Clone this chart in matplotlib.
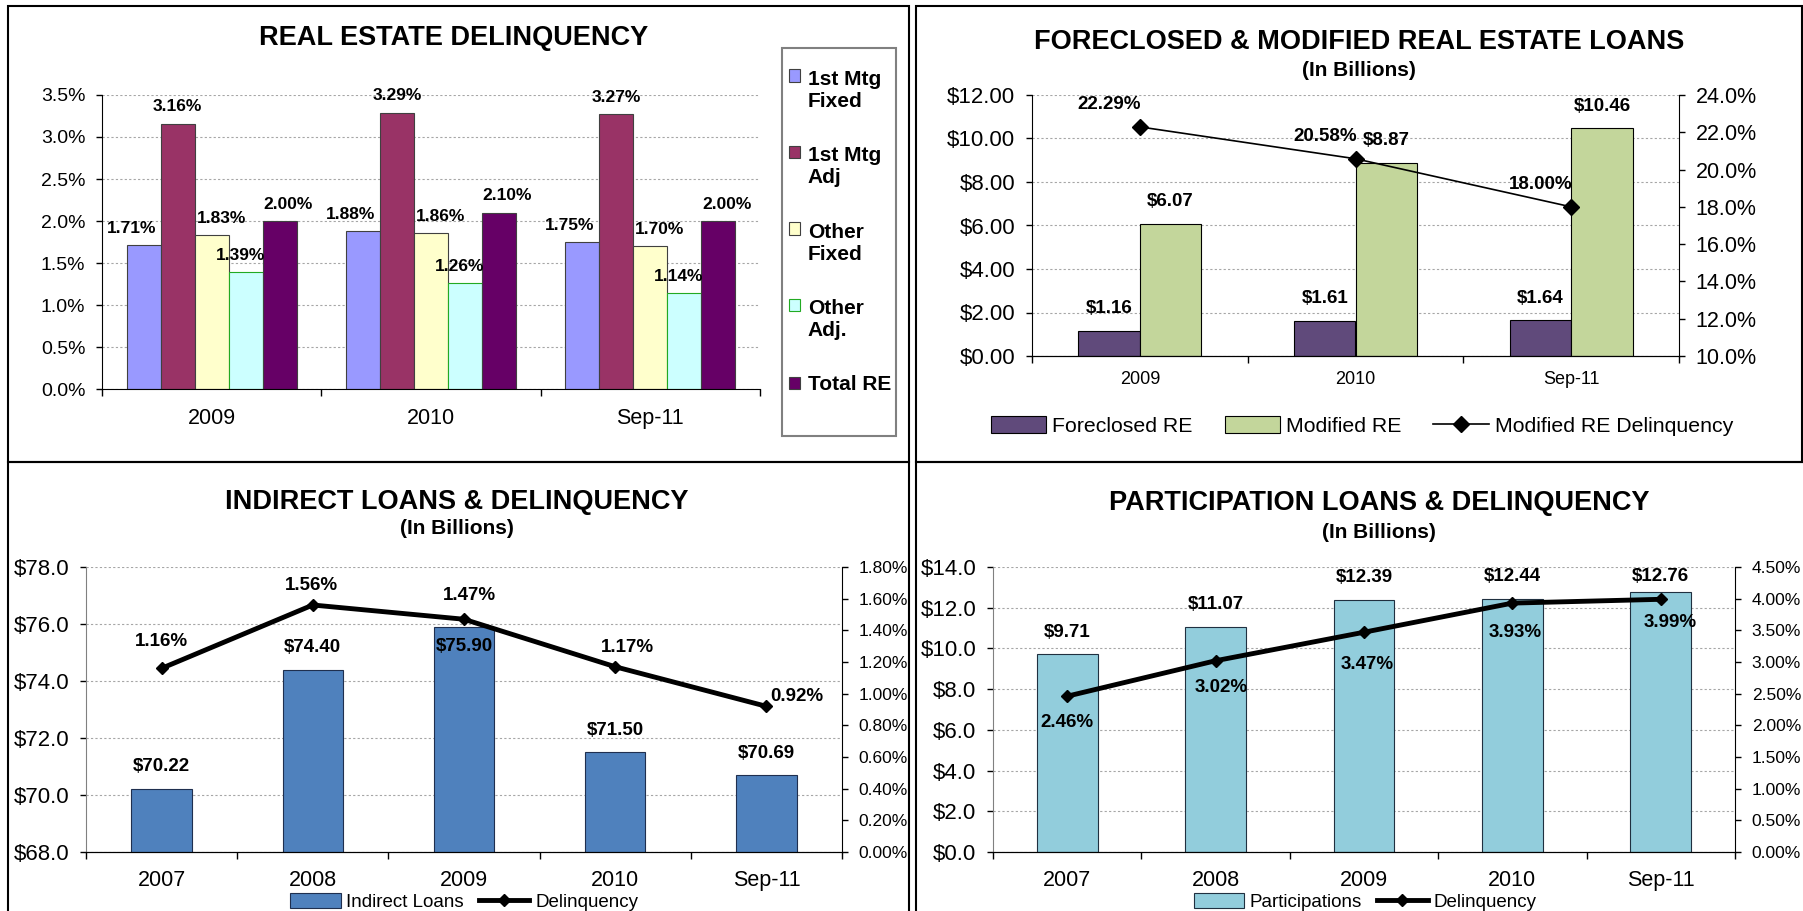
import matplotlib.pyplot as plt
import numpy as np
from matplotlib.patches import Rectangle, Patch
from matplotlib.legend_handler import HandlerPatch

plt.rcParams['font.family'] = ['Liberation Sans', 'DejaVu Sans']

W, H = 1803, 911

# real estate delinquency (%)
re_years = ['2009', '2010', 'Sep-11']
re_names = ['1st Mtg\nFixed', '1st Mtg\nAdj', 'Other\nFixed', 'Other\nAdj.', 'Total RE']
mtg_fixed = [1.71, 1.88, 1.75]
mtg_adj = [3.16, 3.29, 3.27]
other_fixed = [1.83, 1.86, 1.70]
other_adj = [1.39, 1.26, 1.14]
total_re = [2.00, 2.10, 2.00]

# foreclosed & modified RE ($ billions, %)
fm_years = ['2009', '2010', 'Sep-11']
foreclosed = [1.16, 1.61, 1.64]
modified = [6.07, 8.87, 10.46]
modified_delinq = [22.29, 20.58, 18.00]

# indirect loans ($ billions, %)
years5 = ['2007', '2008', '2009', '2010', 'Sep-11']
indirect = [70.22, 74.40, 75.90, 71.50, 70.69]
indirect_delinq = [1.16, 1.56, 1.47, 1.17, 0.92]

# participation loans ($ billions, %)
participations = [9.71, 11.07, 12.39, 12.44, 12.76]
part_delinq = [2.46, 3.02, 3.47, 3.93, 3.99]

fig = plt.figure(figsize=(W / 100, H / 100), dpi=100)


def px_axes(left, top, right, bottom):
    return fig.add_axes([left / W, 1 - bottom / H, (right - left) / W, (bottom - top) / H])


def fig_text(x, y, s, size, weight='bold'):
    fig.text(x / W, 1 - y / H, s, ha='center', va='center', fontsize=size, fontweight=weight)


def panel(left, top, right, bottom):
    fig.add_artist(Rectangle((left / W, 1 - bottom / H), (right - left) / W, (bottom - top) / H,
                             transform=fig.transFigure, fill=False, ec='black', lw=1.5))


def cat_axis(ax, cats, size, pad):
    n = len(cats)
    ax.set_xlim(-0.5, n - 0.5)
    ax.set_xticks(range(n), cats)
    ax.set_xticks(np.arange(-0.5, n, 1), minor=True)
    ax.tick_params(axis='x', which='major', length=0, labelsize=size, pad=pad)
    ax.tick_params(axis='x', which='minor', length=5, width=1)
    ax.spines['top'].set_visible(False)
    ax.spines['right'].set_visible(False)
    ax.yaxis.grid(True, color='#A6A6A6', ls=(0, (2, 2)), lw=0.8)
    ax.set_axisbelow(True)


def val_axis(ax, ticks, fmt, size, pad=8):
    ax.set_ylim(ticks[0], ticks[-1])
    ax.set_yticks(ticks, [fmt.format(t) for t in ticks])
    ax.tick_params(axis='y', length=4, width=1, labelsize=size, pad=pad)


def point_labels(ax, x, vals, fmt, offsets, size=13.5):
    for xi, v, (dx, dy) in zip(x, vals, offsets):
        ax.annotate(fmt.format(v), (xi, v), xytext=(dx, dy), textcoords='offset points',
                    ha='center', va='center', fontsize=size, fontweight='bold')


def upper_square(legend, orig_handle, xdescent, ydescent, width, height, fontsize):
    # put the swatch next to the first line of a two line label
    return Rectangle((-xdescent, -ydescent + 0.7 * fontsize), width, height)


# panel frames
panel(8, 6, 909, 462)
panel(916, 6, 1802, 462)
panel(8, 462, 909, 918)
panel(916, 462, 1808, 918)

# ---------- REAL ESTATE DELINQUENCY ----------
ax = px_axes(102, 95, 760, 389)
cat_axis(ax, re_years, 15.5, 14)
val_axis(ax, np.arange(0, 3.51, 0.5), '{:.1f}%', 14)
re_vals = [mtg_fixed, mtg_adj, other_fixed, other_adj, total_re]
re_colors = ['#9999FF', '#993366', '#FFFFCC', '#CCFFFF', '#660066']
re_edges = ['#404040', '#404040', '#404040', '#22AA22', '#404040']
re_dx = [-9, 0, 7, -4, 6]
bw = 0.155
x3 = np.arange(len(re_years))
handles = []
for i, (vals, c, ec) in enumerate(zip(re_vals, re_colors, re_edges)):
    xs = x3 + (i - 2) * bw
    ax.bar(xs, vals, bw, color=c, edgecolor=ec, lw=0.8)
    point_labels(ax, xs, vals, '{:.2f}%', [(re_dx[i], 12)] * len(vals), size=12.5)
    handles.append(Patch(facecolor=c, edgecolor=ec, lw=0.8))
fig_text(454, 38, 'REAL ESTATE DELINQUENCY', 19.5)
fig.add_artist(Rectangle((782 / W, 1 - 436 / H), 114 / W, 388 / H, transform=fig.transFigure,
                         fill=False, ec='#808080', lw=1.5))
hmap = {h: HandlerPatch(patch_func=upper_square) for h, n in zip(handles, re_names) if '\n' in n}
ax.legend(handles, re_names, loc='center', bbox_to_anchor=(840 / W, 1 - 232 / H),
          bbox_transform=fig.transFigure, frameon=False, handler_map=hmap,
          prop={'weight': 'bold', 'size': 15}, handlelength=0.55, handleheight=0.55,
          handletextpad=0.35, labelspacing=1.7)

# ---------- FORECLOSED & MODIFIED ----------
ax = px_axes(1032, 95, 1679, 356)
cat_axis(ax, fm_years, 13, 11)
val_axis(ax, np.arange(0, 12.01, 2), '${:.2f}', 16)
bw = 0.285
ax.bar(x3 - bw / 2, foreclosed, bw, color='#604A7B', edgecolor='black', lw=0.8, label='Foreclosed RE')
ax.bar(x3 + bw / 2, modified, bw, color='#C3D69B', edgecolor='black', lw=0.8, label='Modified RE')
point_labels(ax, x3 - bw / 2, foreclosed, '${:.2f}', [(0, 16)] * 3)
point_labels(ax, x3 + bw / 2, modified, '${:.2f}', [(0, 16)] * 3)
ax2 = ax.twinx()
ax2.spines['top'].set_visible(False)
ax2.spines['left'].set_visible(False)
val_axis(ax2, np.arange(10, 24.01, 2), '{:.1f}%', 15.5)
ax2.plot(x3, modified_delinq, color='black', lw=1.2, marker='D', ms=8, label='Modified RE Delinquency')
point_labels(ax2, x3, modified_delinq, '{:.2f}%', [(-22, 16)] * 3)
fig_text(1359, 42, 'FORECLOSED & MODIFIED REAL ESTATE LOANS', 19.5)
fig_text(1359, 70, '(In Billions)', 15)
h1, l1 = ax.get_legend_handles_labels()
h2, l2 = ax2.get_legend_handles_labels()
ax2.legend(h1 + h2, l1 + l2, loc='center', bbox_to_anchor=(1362 / W, 1 - 426 / H),
           bbox_transform=fig.transFigure, ncol=3, frameon=False, fontsize=15.3,
           handlelength=2.6, handleheight=0.8, handletextpad=0.3, columnspacing=1.5)

# ---------- INDIRECT LOANS ----------
x5 = np.arange(len(years5))
ax = px_axes(86, 567, 842, 852)
cat_axis(ax, years5, 15.5, 13)
val_axis(ax, np.arange(68, 78.01, 2), '${:.1f}', 16)
ax.spines['left'].set_color('#808080')
ax.bar(x5, indirect, 0.40, color='#4F81BD', edgecolor='#1F2F4F', lw=0.8, label='Indirect Loans')
point_labels(ax, x5, indirect, '${:.2f}', [(0, 16), (0, 16), (0, -14), (0, 16), (0, 16)])
ax2 = ax.twinx()
ax2.spines['top'].set_visible(False)
ax2.spines['left'].set_visible(False)
val_axis(ax2, np.arange(0, 1.801, 0.2), '{:.2f}%', 12.5)
ax2.plot(x5, indirect_delinq, color='black', lw=3.5, marker='D', ms=6, label='Delinquency')
point_labels(ax2, x5, indirect_delinq, '{:.2f}%', [(0, 19), (-1, 14), (4, 17), (9, 14), (22, 7)])
fig_text(457, 502, 'INDIRECT LOANS & DELINQUENCY', 19.5)
fig_text(457, 529, '(In Billions)', 15)
h1, l1 = ax.get_legend_handles_labels()
h2, l2 = ax2.get_legend_handles_labels()
ax2.legend(h1 + h2, l1 + l2, loc='center', bbox_to_anchor=(464 / W, 1 - 902 / H),
           bbox_transform=fig.transFigure, ncol=2, frameon=False, fontsize=13.5,
           handlelength=2.7, handleheight=0.8, handletextpad=0.3, columnspacing=0.8)

# ---------- PARTICIPATION LOANS ----------
ax = px_axes(993, 567, 1735, 852)
cat_axis(ax, years5, 15.5, 13)
val_axis(ax, np.arange(0, 14.01, 2), '${:.1f}', 16)
ax.spines['left'].set_color('#808080')
ax.bar(x5, participations, 0.41, color='#92CDDC', edgecolor='#203040', lw=0.8, label='Participations')
point_labels(ax, x5, participations, '${:.2f}', [(0, 16), (0, 16), (0, 16), (0, 16), (0, 11)])
ax2 = ax.twinx()
ax2.spines['top'].set_visible(False)
ax2.spines['left'].set_visible(False)
val_axis(ax2, np.arange(0, 4.501, 0.5), '{:.2f}%', 12.5)
ax2.plot(x5, part_delinq, color='black', lw=3.5, marker='D', ms=6, label='Delinquency')
point_labels(ax2, x5, part_delinq, '{:.2f}%', [(0, -19), (4, -19), (2, -23), (2, -21), (7, -17)])
fig_text(1379, 503, 'PARTICIPATION LOANS & DELINQUENCY', 19.5)
fig_text(1379, 532, '(In Billions)', 15)
h1, l1 = ax.get_legend_handles_labels()
h2, l2 = ax2.get_legend_handles_labels()
ax2.legend(h1 + h2, l1 + l2, loc='center', bbox_to_anchor=(1365 / W, 1 - 902 / H),
           bbox_transform=fig.transFigure, ncol=2, frameon=False, fontsize=13.5,
           handlelength=2.7, handleheight=0.8, handletextpad=0.3, columnspacing=0.8)

fig.savefig('out.png', dpi=100)
